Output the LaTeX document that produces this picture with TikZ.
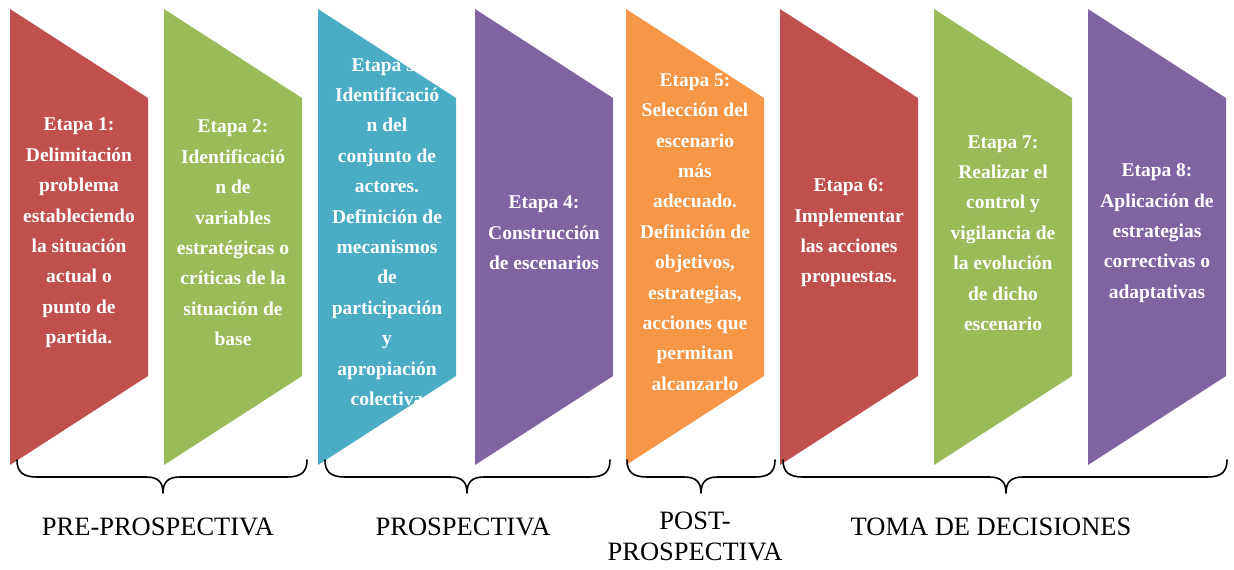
\documentclass[tikz,border=0pt]{standalone}
\usepackage{fontspec}
\setmainfont{Liberation Serif}
\definecolor{cred}{HTML}{C0504D}
\definecolor{cgreen}{HTML}{9BBB59}
\definecolor{cblue}{HTML}{4BACC6}
\definecolor{cpurple}{HTML}{8064A2}
\definecolor{corange}{HTML}{F79646}
\tikzset{
  stagetext/.style={text=white, inner sep=0pt, align=center, font=\bfseries\fontsize{19.5}{30.4}\selectfont},
  phasetext/.style={text=black, inner sep=0pt, align=center, font=\fontsize{26.5}{31}\selectfont},
  bracepath/.style={draw=black, line width=1.6pt, line cap=round, line join=round},
}
\newcommand{\stageshape}[2]{\fill[#2] (#1,9) -- (#1+138,98) -- (#1+138,376) -- (#1,465) -- cycle;}
\newcommand{\mybrace}[3]{\draw[bracepath] (#1,460) .. controls (#1,472) and (#1+6,477) .. (#1+20,477) -- (#2-17,477) .. controls (#2-5,477) and (#2,482) .. (#2,493) .. controls (#2,482) and (#2+5,477) .. (#2+17,477) -- (#3-20,477) .. controls (#3-6,477) and (#3,472) .. (#3,460);}
\begin{document}
\begin{tikzpicture}[x=1pt,y=-1pt]
\useasboundingbox (0,0) rectangle (1234,570);
\stageshape{10}{cred}
\stageshape{164}{cgreen}
\stageshape{318}{cblue}
\stageshape{475}{cpurple}
\stageshape{626}{corange}
\stageshape{780}{cred}
\stageshape{934}{cgreen}
\stageshape{1088}{cpurple}

\node[stagetext] (s1) at (79,233) {Etapa 1:\\Delimitación\\problema\\estableciendo\\la situación\\actual o\\punto de\\partida.};
\node[stagetext] (s2) at (233,233) {Etapa 2:\\Identificació\\n de\\variables\\estratégicas o\\críticas de la\\situación de\\base};
\node[stagetext] (s3) at (387,232) {Etapa 3:\\Identificació\\n del\\conjunto de\\actores.\\Definición de\\mecanismos\\de\\participación\\y\\apropiación\\colectiva};
\node[stagetext] (s4) at (544,233) {Etapa 4:\\Construcción\\de escenarios};
\node[stagetext] (s5) at (695,232) {Etapa 5:\\Selección del\\escenario\\más\\adecuado.\\Definición de\\objetivos,\\estrategias,\\acciones que\\permitan\\alcanzarlo};
\node[stagetext] (s6) at (849,233) {Etapa 6:\\Implementar\\las acciones\\propuestas.};
\node[stagetext] (s7) at (1003,233) {Etapa 7:\\Realizar el\\control y\\vigilancia de\\la evolución\\de dicho\\escenario};
\node[stagetext] (s8) at (1157,233) {Etapa 8:\\Aplicación de\\estrategias\\correctivas o\\adaptativas};

\mybrace{17}{163}{307}
\mybrace{325}{467}{610}
\mybrace{627}{701}{775}
\mybrace{783}{1006}{1227}

\node[phasetext] (p1) at (158,527) {PRE-PROSPECTIVA};
\node[phasetext] (p2) at (463,527) {PROSPECTIVA};
\node[phasetext] (p3) at (695,536.5) {POST-\\PROSPECTIVA};
\node[phasetext] (p4) at (991,527) {TOMA DE DECISIONES};
\end{tikzpicture}
\end{document}
